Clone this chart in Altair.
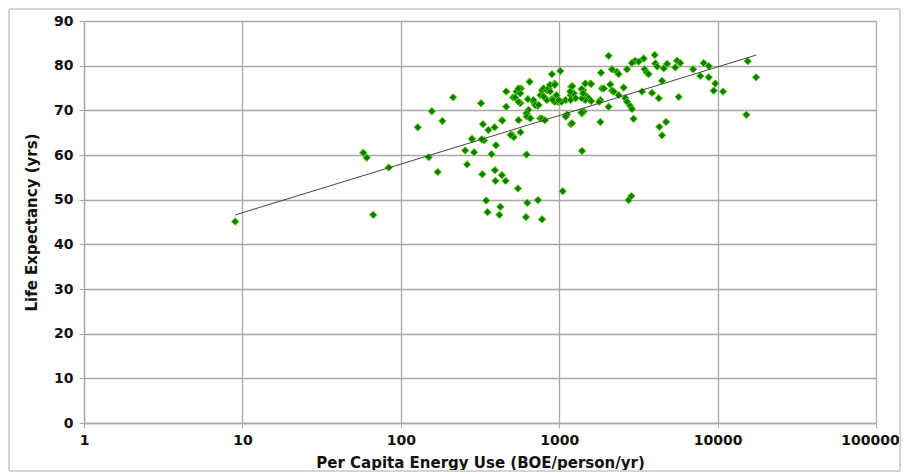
import altair as alt
import pandas as pd

energy = [
    9.0, 58, 61, 67, 84, 128, 150, 157, 171, 183, 214, 262, 255, 283, 290,
    321, 330, 335, 327, 346, 353, 357, 391, 399, 374, 393, 396, 435, 459, 425,
    419, 435, 463, 463, 511, 506, 516, 549, 538, 574, 554, 568, 570, 629, 617,
    622, 650, 635, 640, 621, 655, 735, 779, 760, 779, 813, 730, 688, 688, 705,
    742, 761, 779, 797, 836, 856, 836, 876, 876, 900, 938, 960, 983, 938, 900,
    1016, 1034, 1099, 1180, 1190, 1237, 1268, 1180, 1120, 1186, 1393, 1052, 2743, 2853, 1413,
    1462, 1534, 1462, 1393, 1393, 1427, 1571, 1462, 1383, 1413, 1175, 1210, 1590, 1590, 1818,
    1785, 1860, 1913, 2102, 2154, 2207, 2372, 2550, 2617, 2680, 2810, 2880, 2950, 2050, 1820,
    1837, 2051, 2154, 2317, 2372, 2680, 4009, 3413, 3020, 2880, 3176, 3459, 3581, 3669, 4046,
    4150, 4570, 4800, 5410, 5550, 5820, 7000, 8170, 8790, 7780, 8790, 9680, 9450, 10820, 15500,
    17500, 15200, 4456, 3854, 4250, 5680, 3334, 4290, 4730, 4460, 527, 568, 554, 554, 625,
    657, 938, 913, 994, 797, 1099, 1205, 1383, 281, 324, 437, 494,
]
life = [
    45.1, 60.5, 59.4, 46.6, 57.2, 66.2, 59.5, 69.8, 56.2, 67.6, 72.9, 57.9, 61.0, 63.6, 60.6,
    71.6, 66.9, 63.3, 55.7, 49.8, 47.2, 65.6, 66.2, 62.2, 60.2, 56.6, 54.2, 55.5, 54.2, 48.4,
    46.6, 67.8, 70.8, 74.2, 72.9, 64.5, 64.0, 52.5, 74.2, 74.9, 67.8, 71.6, 65.1, 49.3, 46.1,
    60.1, 76.4, 72.5, 70.1, 69.3, 68.3, 49.9, 45.6, 68.2, 68.1, 67.8, 71.0, 71.9, 72.3, 71.2,
    71.2, 73.4, 74.5, 74.9, 74.5, 74.9, 72.3, 75.7, 74.2, 72.5, 76.0, 73.4, 71.9, 71.9, 78.1,
    78.8, 71.9, 72.3, 73.4, 75.3, 73.8, 72.7, 72.3, 69.1, 66.9, 60.9, 51.9, 49.9, 50.8, 74.5,
    73.4, 72.7, 72.3, 72.7, 69.3, 69.7, 76.0, 76.0, 74.8, 73.8, 74.2, 75.4, 75.9, 72.1, 72.3,
    71.9, 74.9, 74.9, 75.8, 74.4, 74.2, 73.4, 75.1, 72.7, 71.9, 71.0, 70.3, 68.1, 70.8, 67.4,
    78.4, 82.2, 79.2, 78.6, 78.1, 79.2, 82.4, 81.6, 81.1, 80.6, 80.9, 79.2, 78.4, 78.1, 80.5,
    79.8, 79.4, 80.4, 79.6, 81.1, 80.6, 79.2, 80.6, 79.9, 77.7, 77.4, 76.0, 74.4, 74.2, 81.0,
    77.4, 69.0, 76.6, 73.9, 72.7, 73.0, 74.2, 66.3, 67.4, 64.4, 72.9, 73.8, 71.9, 74.9, 68.6,
    68.2, 75.7, 72.3, 72.3, 73.1, 68.6, 67.1, 69.5, 63.6, 63.5, 67.7, 64.5,
]

x_ticks = [1, 10, 100, 1000, 10000, 100000]
y_ticks = [0, 10, 20, 30, 40, 50, 60, 70, 80, 90]

# logarithmic trendline: life = a + b * log10(energy)
trend_energy = [9.0, 17500]
trend_a = 36.2
trend_b = 10.88

df = pd.DataFrame({"energy": energy, "life": life})
trend_df = pd.DataFrame({"energy": trend_energy})

FONT = "DejaVu Sans"
GRID = "#a8a8a8"

x_enc = alt.X(
    "energy:Q",
    scale=alt.Scale(type="log", domain=[1, 100000], nice=False),
    axis=alt.Axis(
        values=x_ticks, format="d", title="Per Capita Energy Use (BOE/person/yr)",
        grid=True, gridColor=GRID, gridWidth=1.3, domainColor=GRID, domainWidth=1.3,
        tickColor=GRID, tickSize=5, labelFont=FONT, labelFontSize=14,
        labelFontWeight="bold", labelColor="#111", labelPadding=5, labelFlush=False,
        labelOffset={"condition": {"test": "datum.value >= 100000", "value": -6}, "value": 0},
        titleFont=FONT, titleFontSize=15, titleFontWeight="bold", titleColor="#111",
        titlePadding=8,
    ),
)
y_enc = alt.Y(
    "life:Q",
    scale=alt.Scale(domain=[0, 90], nice=False),
    axis=alt.Axis(
        values=y_ticks, title="Life Expectancy (yrs)",
        grid=True, gridColor=GRID, gridWidth=1.3, domainColor=GRID, domainWidth=1.3,
        tickColor=GRID, tickSize=5, labelFont=FONT, labelFontSize=14,
        labelFontWeight="bold", labelColor="#111", labelPadding=6,
        titleFont=FONT, titleFontSize=15, titleFontWeight="bold", titleColor="#111",
        titlePadding=14,
    ),
)

points = alt.Chart(df).mark_point(
    shape="diamond", filled=True, size=55, fill="#008000",
    stroke="#66cc00", strokeWidth=1, opacity=1,
).encode(x=x_enc, y=y_enc)

trend = alt.Chart(trend_df).transform_calculate(
    life=f"{trend_a} + {trend_b} * log(datum.energy) / LN10"
).mark_line(color="#444444", strokeWidth=1).encode(x="energy:Q", y="life:Q")

frame = alt.Chart(df).mark_rect(
    fill=None, stroke="#d4d4d4", strokeWidth=1
).encode(
    x=alt.value(-75), x2=alt.value(816), y=alt.value(-12), y2=alt.value(450)
)

chart = alt.layer(frame, points, trend).properties(
    width=792, height=402,
    autosize=alt.AutoSizeParams(type="none"),
    padding={"left": 76, "top": 13, "right": 25, "bottom": 51},
).configure_view(stroke=GRID, strokeWidth=1.3).configure(background="white")

chart.save("out.html", embed_options={"renderer": "svg", "actions": False})
